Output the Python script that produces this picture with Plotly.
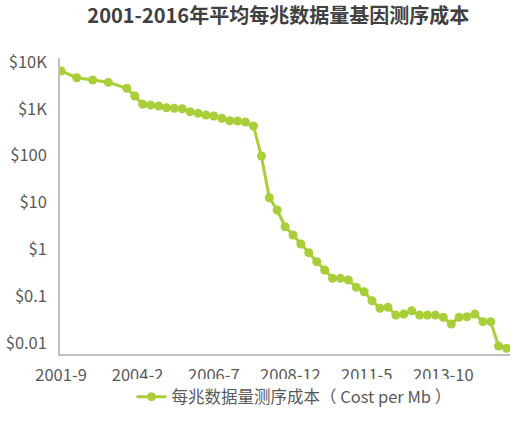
import plotly.graph_objects as go

dates = [
    "2001-09", "2002-03", "2002-09", "2003-03", "2003-10", "2004-01", "2004-04",
    "2004-07", "2004-10", "2005-01", "2005-04", "2005-07", "2005-10", "2006-01",
    "2006-04", "2006-07", "2006-10", "2007-01", "2007-04", "2007-07", "2007-10",
    "2008-01", "2008-04", "2008-07", "2008-10", "2009-01", "2009-04", "2009-07",
    "2009-10", "2010-01", "2010-04", "2010-07", "2010-10", "2011-01", "2011-04",
    "2011-07", "2011-10", "2012-01", "2012-04", "2012-07", "2012-10", "2013-01",
    "2013-04", "2013-07", "2013-10", "2014-01", "2014-04", "2014-07", "2014-10",
    "2015-01", "2015-04", "2015-07", "2015-10",
]
cost_per_mb = [
    6400, 4600, 4100, 3670, 2740, 1875, 1250,
    1200, 1150, 1055, 1025, 1000, 867, 800,
    738, 702, 627, 557, 550, 520, 430,
    98.6, 12.7, 6.95, 3.06, 2.04, 1.31, 0.855,
    0.55, 0.366, 0.243, 0.243, 0.224, 0.156, 0.126,
    0.081, 0.0557, 0.0586, 0.040, 0.042, 0.0495, 0.040,
    0.040, 0.040, 0.0358, 0.0258, 0.0358, 0.0369, 0.042,
    0.0289, 0.0289, 0.00875, 0.0078,
]

x_tick_dates = ["2001-09-01", "2004-02-01", "2006-07-01", "2008-12-01", "2011-05-01", "2013-10-01"]
x_tick_labels = ["2001-9", "2004-2", "2006-7", "2008-12", "2011-5", "2013-10"]
y_tick_vals = [10000, 1000, 100, 10, 1, 0.1, 0.01]
y_tick_labels = ["$10K", "$1K", "$100", "$10", "$1", "$0.1", "$0.01"]

title_text = "2001-2016年平均每兆数据量基因测序成本"
series_name = "每兆数据量测序成本（ Cost per Mb ）"

color = "#a8ce38"
font_family = "Noto Sans CJK SC"

fig = go.Figure()
fig.add_trace(go.Scatter(
    x=[d + "-01" for d in dates],
    y=cost_per_mb,
    mode="lines+markers",
    name=series_name,
    line=dict(color=color, width=3),
    marker=dict(color=color, size=9),
))

fig.update_layout(
    width=530, height=424,
    paper_bgcolor="white", plot_bgcolor="white",
    font=dict(family=font_family, color="#595959", size=16),
    title=dict(text="<b>" + title_text + "</b>", x=0.525, xanchor="center",
               y=0.962, yanchor="middle",
               font=dict(family=font_family, size=20, color="#404040")),
    margin=dict(l=60, r=20, t=58, b=70, autoexpand=False),
    showlegend=True,
    legend=dict(orientation="h", x=0.52, xanchor="center", y=-0.086, yanchor="top",
                font=dict(size=16.5, color="#595959"), itemwidth=30),
    xaxis=dict(
        type="date", automargin=False,
        range=["2001-08-20", "2015-11-10"],
        tickmode="array", tickvals=x_tick_dates, ticktext=x_tick_labels,
        showgrid=False, zeroline=False,
        showline=True, linecolor="#bfbfbf", linewidth=1.5,
        ticks="", ticklabelstandoff=5,
        tickfont=dict(size=16.5, color="#595959"),
    ),
    yaxis=dict(
        type="log", automargin=False,
        range=[-2.228, 4.083],
        tickmode="array", tickvals=y_tick_vals, ticktext=y_tick_labels,
        showgrid=False, zeroline=False,
        showline=True, linecolor="#bfbfbf", linewidth=1.5,
        ticks="", ticklabelstandoff=8,
        tickfont=dict(size=16.5, color="#595959"),
    ),
)

fig.write_html(
    "out.html",
    config={"displayModeBar": False},
    post_script="document.body.style.margin='0';document.body.style.overflow='hidden';",
)
